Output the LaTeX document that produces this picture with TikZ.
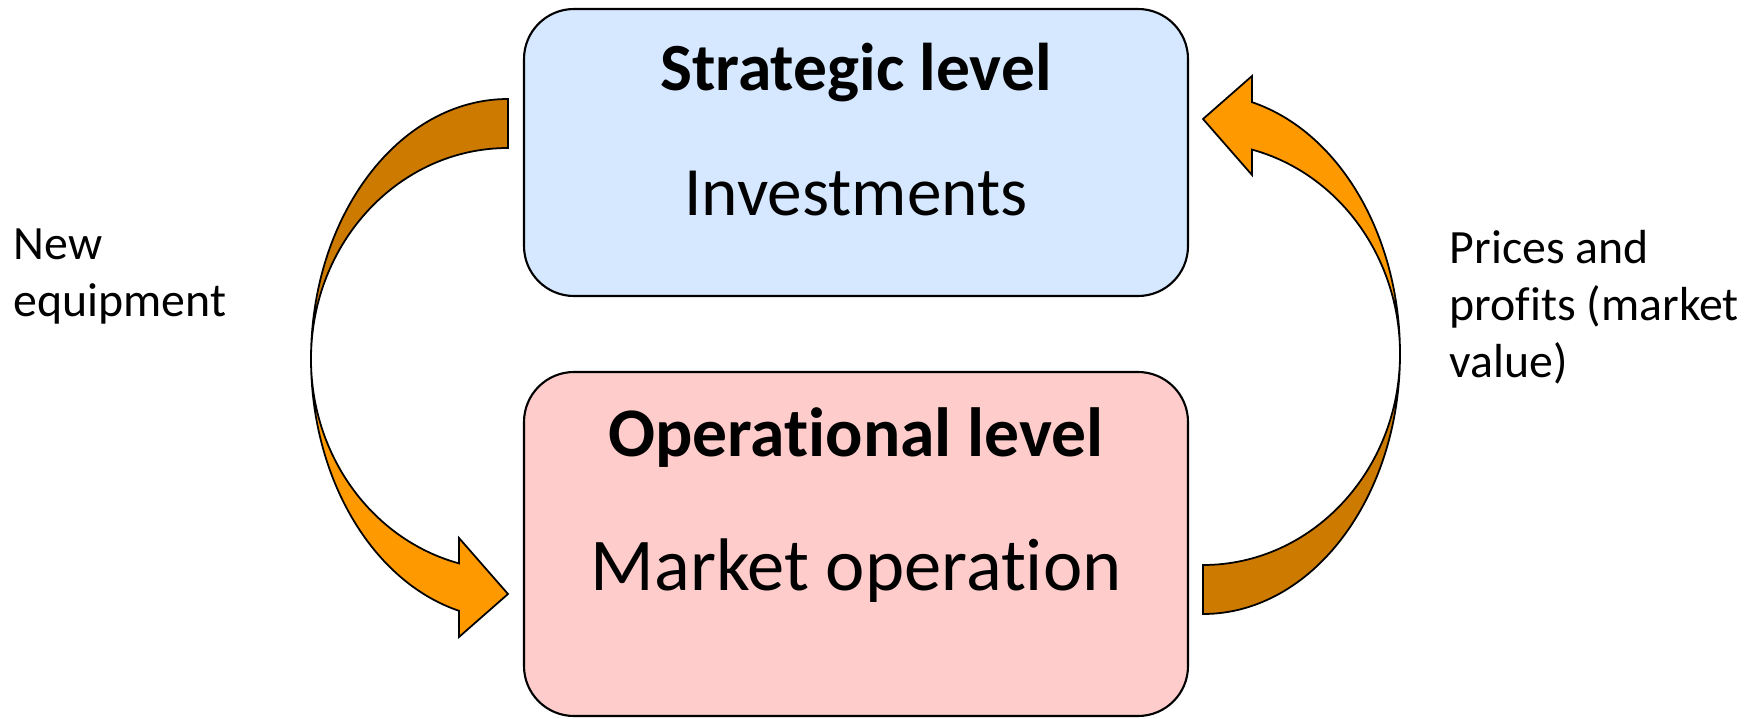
\documentclass[tikz,border=0pt]{standalone}
\usepackage{fontspec}
\setmainfont[Ligatures=NoCommon]{Carlito}
\usetikzlibrary{positioning}

\definecolor{boxblue}{RGB}{213,232,255}
\definecolor{boxpink}{RGB}{255,204,204}
\definecolor{arroworange}{RGB}{255,153,0}
\definecolor{arrowdark}{RGB}{204,122,0}

\tikzset{
    levelbox/.style={draw, line width=0.6pt, rounded corners=0.5cm,
        minimum width=6.64cm, inner sep=0pt},
    boxtitle/.style={anchor=base, inner sep=0pt, font=\bfseries\fontsize{19.2}{23}\selectfont},
    boxtext/.style={anchor=base, inner sep=0pt},
    sidelabel/.style={anchor=north west, inner sep=0pt, align=left,
        font=\fontsize{13.6}{16.2}\selectfont},
    bandback/.style={fill=arrowdark, draw, line width=0.5pt, line join=miter},
    bandfront/.style={fill=arroworange, draw, line width=0.5pt, line join=miter}
}

% Curved band arrow: back part on top, front part with head at the bottom
\newcommand{\bandarrow}{%
    \filldraw[bandback] (5.08,6.19)
        arc[start angle=90, end angle=180, x radius=1.97, y radius=2.60]
        arc[start angle=180, end angle=90, x radius=1.97, y radius=2.11] -- cycle;
    \filldraw[bandfront] (3.11,3.59)
        arc[start angle=180, end angle=255.6, x radius=1.97, y radius=2.60]
        -- (4.59,0.81) -- (5.08,1.24) -- (4.59,1.80) -- (4.59,1.546)
        arc[start angle=255.6, end angle=180, x radius=1.97, y radius=2.11] -- cycle;
}

\begin{document}
\begin{tikzpicture}

    \useasboundingbox (0,0) rectangle (17.58,7.18);

    % Die beiden Ebenen
    \node[levelbox, fill=boxblue, minimum height=2.87cm] (strat) at (8.56,5.655) {};
    \node[levelbox, fill=boxpink, minimum height=3.44cm] (oper) at (8.56,1.74) {};

    \node[boxtitle] (stratT) at (8.56,6.28) {Strategic level};
    \node[boxtext, font=\fontsize{19.7}{24}\selectfont] (stratB) at (8.56,5.03) {Investments};

    \node[boxtitle, font=\bfseries\fontsize{19.8}{24}\selectfont] (operT) at (8.56,2.62) {Operational level};
    \node[boxtext, font=\fontsize{21.2}{26}\selectfont] (operB) at (8.56,1.28) {Market operation};

    % Pfeile links und rechts
    \bandarrow
    \begin{scope}[rotate around={180:(8.555,3.615)}]
        \bandarrow
    \end{scope}

    % Beschriftungen
    \node[sidelabel] (newequip) at (0.13,4.90) {New\\equipment};
    \node[sidelabel] (prices) at (14.49,4.88) {Prices and\\profits (market\\value)};

\end{tikzpicture}
\end{document}
